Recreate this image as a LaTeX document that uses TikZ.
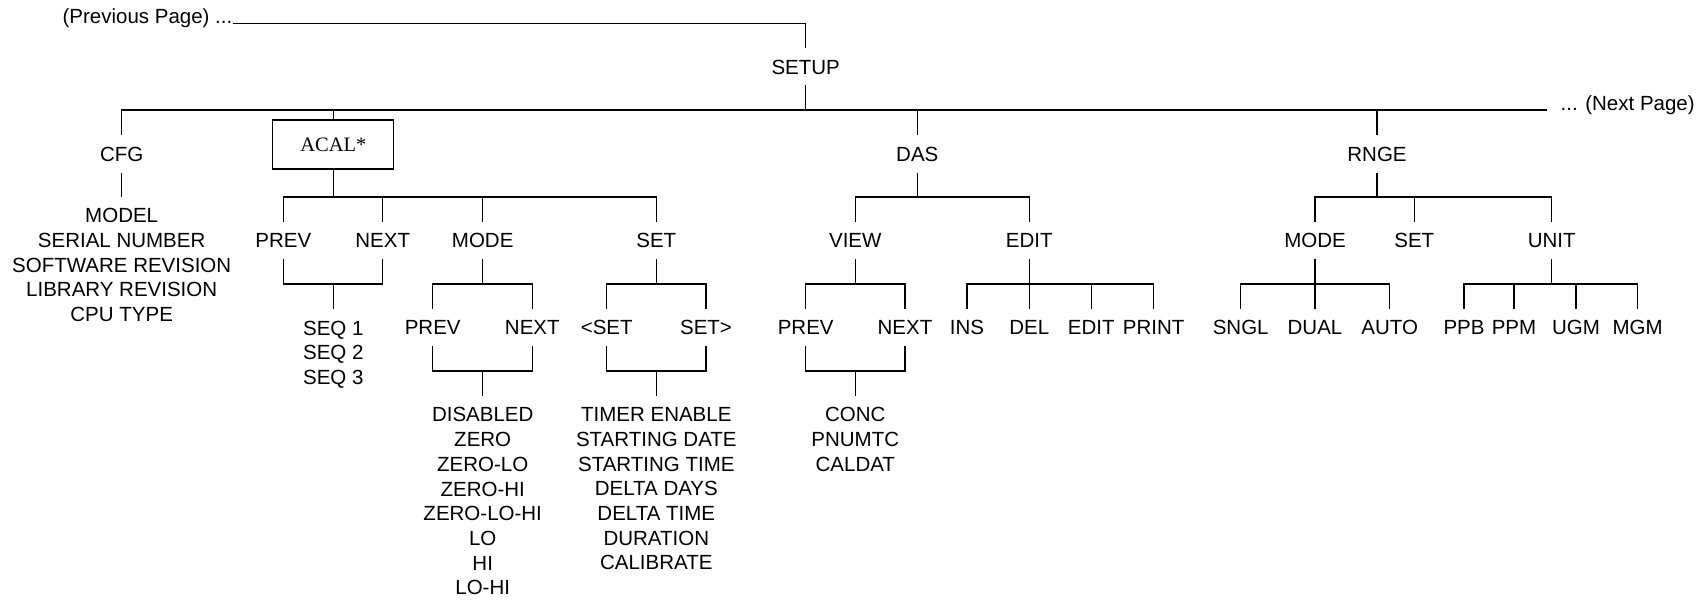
\documentclass[tikz,border=0pt]{standalone}
\usepackage{fontspec}
\setmainfont{Liberation Sans}
\newfontfamily\acalfont{Liberation Serif}
\begin{document}
\begin{tikzpicture}[x=1pt,y=-1pt, line width=1.3pt,
  lbl/.style={font=\fontsize{20.5}{24.7}\selectfont, text height=14.7pt, text depth=0pt, minimum height=36pt, inner xsep=2pt, inner ysep=0pt},
  lst/.style={font=\fontsize{20.5}{24.7}\selectfont, align=center, inner xsep=2pt, inner ysep=11pt, anchor=north},
  acalbox/.style={draw, font=\acalfont\fontsize{20.5}{24.7}\selectfont, minimum width=121pt, minimum height=49pt, inner sep=0pt}]
\useasboundingbox (0,0) rectangle (1702,600);

% ---- root ----
\node[lbl, anchor=base east, inner xsep=0pt, minimum height=0pt] (prevpage) at (233,23.3) {(Previous Page) ...};
\node[lbl] (setup) at (805.7,66.7) {SETUP};
\node[lbl, anchor=base west, inner xsep=13pt, minimum height=0pt] (nextpage) at (1547,110) {... (Next Page)};
\node[lbl] (cfg) at (121.7,154) {CFG};
\node[acalbox] (acal) at (333.3,144.5) {ACAL*};
\node[lbl] (das) at (917.3,154) {DAS};
\node[lbl] (rnge) at (1377,154) {RNGE};

\draw (prevpage.base east) -| (setup.north);
\coordinate (b0) at (805.7,110);
\draw (setup.south) -- (b0);
\draw (cfg.north) |- (nextpage.base west);
\draw (acal.north) |- (b0);
\draw (das.north) |- (b0);
\draw (rnge.north) |- (b0);

% ---- CFG ----
\node[lst] (cfglist) at (121.7,196.7) {MODEL\\SERIAL NUMBER\\SOFTWARE REVISION\\LIBRARY REVISION\\CPU TYPE};
\draw (cfg.south) -- (cfglist.north);

% ---- ACAL ----
\coordinate (b1) at (333.3,197);
\node[lbl] (aprev) at (283.3,240.5) {PREV};
\node[lbl] (anext) at (382.7,240.5) {NEXT};
\node[lbl] (amode) at (482.7,240.5) {MODE};
\node[lbl] (aset) at (656.3,240.5) {SET};
\draw (acal.south) -- (b1);
\draw (aprev.north) |- (b1);
\draw (anext.north) |- (b1);
\draw (amode.north) |- (b1);
\draw (aset.north) |- (b1);

\coordinate (j1) at (333.3,284);
\node[lst] (seqlist) at (333.3,309.3) {SEQ 1\\SEQ 2\\SEQ 3};
\draw (aprev.south) |- (j1);
\draw (anext.south) |- (j1);
\draw (j1) -- (seqlist.north);

% ACAL / MODE
\coordinate (b2) at (482.7,284);
\node[lbl] (mprev) at (432.7,327.3) {PREV};
\node[lbl] (mnext) at (532.3,327.3) {NEXT};
\draw (amode.south) -- (b2);
\draw (mprev.north) |- (b2);
\draw (mnext.north) |- (b2);
\coordinate (j2) at (482.7,371);
\node[lst] (modelist) at (482.7,396) {DISABLED\\ZERO\\ZERO-LO\\ZERO-HI\\ZERO-LO-HI\\LO\\HI\\LO-HI};
\draw (mprev.south) |- (j2);
\draw (mnext.south) |- (j2);
\draw (j2) -- (modelist.north);

% ACAL / SET
\coordinate (b3) at (656.3,284);
\node[lbl] (sprev) at (606.7,327.3) {<SET};
\node[lbl] (snext) at (706,327.3) {SET>};
\draw (aset.south) -- (b3);
\draw (sprev.north) |- (b3);
\draw (snext.north) |- (b3);
\coordinate (j3) at (656.3,371);
\node[lst] (setlist) at (656.3,396) {TIMER ENABLE\\STARTING DATE\\STARTING TIME\\DELTA DAYS\\DELTA TIME\\DURATION\\CALIBRATE};
\draw (sprev.south) |- (j3);
\draw (snext.south) |- (j3);
\draw (j3) -- (setlist.north);

% ---- DAS ----
\coordinate (b4) at (917.3,197);
\node[lbl] (view) at (855.3,240.5) {VIEW};
\node[lbl] (edit) at (1029.3,240.5) {EDIT};
\draw (das.south) -- (b4);
\draw (view.north) |- (b4);
\draw (edit.north) |- (b4);

\coordinate (b5) at (855.3,284);
\node[lbl] (vprev) at (805.7,327.3) {PREV};
\node[lbl] (vnext) at (905,327.3) {NEXT};
\draw (view.south) -- (b5);
\draw (vprev.north) |- (b5);
\draw (vnext.north) |- (b5);
\coordinate (j4) at (855.3,371);
\node[lst] (daslist) at (855.3,396) {CONC\\PNUMTC\\CALDAT};
\draw (vprev.south) |- (j4);
\draw (vnext.south) |- (j4);
\draw (j4) -- (daslist.north);

\coordinate (b6) at (1029.3,284);
\node[lbl] (ins) at (967,327.3) {INS};
\node[lbl] (del) at (1029.3,327.3) {DEL};
\node[lbl] (eedit) at (1091.3,327.3) {EDIT};
\node[lbl] (print) at (1153.7,327.3) {PRINT};
\draw (edit.south) -- (b6);
\draw (ins.north) |- (b6);
\draw (del.north) |- (b6);
\draw (eedit.north) |- (b6);
\draw (print.north) |- (b6);

% ---- RNGE ----
\coordinate (b7) at (1377,197);
\node[lbl] (rmode) at (1315,240.5) {MODE};
\node[lbl] (rset) at (1414.3,240.5) {SET};
\node[lbl] (unit) at (1551.7,240.5) {UNIT};
\draw (rnge.south) -- (b7);
\draw (rmode.north) |- (b7);
\draw (rset.north) |- (b7);
\draw (unit.north) |- (b7);

\coordinate (b8) at (1315,284);
\node[lbl] (sngl) at (1240.7,327.3) {SNGL};
\node[lbl] (dual) at (1315,327.3) {DUAL};
\node[lbl] (auto) at (1389.7,327.3) {AUTO};
\draw (rmode.south) -- (b8);
\draw (sngl.north) |- (b8);
\draw (dual.north) |- (b8);
\draw (auto.north) |- (b8);

\coordinate (b9) at (1551.7,284);
\node[lbl] (ppb) at (1464,327.3) {PPB};
\node[lbl] (ppm) at (1514,327.3) {PPM};
\node[lbl] (ugm) at (1576,327.3) {UGM};
\node[lbl] (mgm) at (1637.7,327.3) {MGM};
\draw (unit.south) -- (b9);
\draw (ppb.north) |- (b9);
\draw (ppm.north) |- (b9);
\draw (ugm.north) |- (b9);
\draw (mgm.north) |- (b9);
\end{tikzpicture}
\end{document}
